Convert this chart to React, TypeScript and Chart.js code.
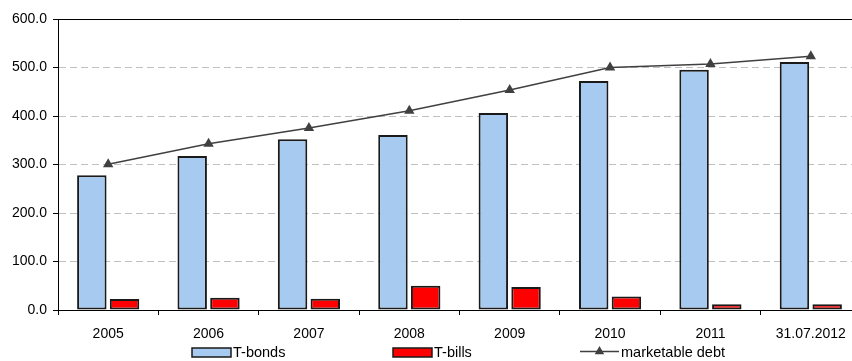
import { useEffect, useRef } from "react";
import { Chart, registerables } from "chart.js";

Chart.register(...registerables);

// Year-end amounts outstanding
const categories = ["2005", "2006", "2007", "2008", "2009", "2010", "2011", "31.07.2012"];
const tBonds = [278.0, 317.5, 352.0, 361.0, 406.0, 472.0, 495.5, 511.5];
const tBills = [22.7, 25.4, 23.4, 50.0, 47.5, 28.0, 11.7, 11.7];
const marketableDebt = [300.7, 342.9, 375.4, 411.0, 453.5, 500.0, 507.2, 523.2];
const yTicks = [0, 100, 200, 300, 400, 500, 600];

const FONT_FAMILY = '"Liberation Sans", Arial, sans-serif';
const FONT = { family: FONT_FAMILY, size: 14 };

// Draws the plot frame (top/right) and the legend row under the axis.
const frameAndLegend = {
  id: "frameAndLegend",
  afterDraw(chart: any) {
    const { ctx, chartArea } = chart;
    ctx.save();
    ctx.strokeStyle = "#000";
    ctx.lineWidth = 1;
    const top = Math.round(chartArea.top) + 0.5;
    const right = Math.round(chartArea.right) + 0.5;
    ctx.beginPath();
    ctx.moveTo(chartArea.left, top);
    ctx.lineTo(right, top);
    ctx.lineTo(right, chartArea.bottom);
    ctx.stroke();

    const ds = chart.data.datasets;
    const xs = [192, 393, 580];
    const cy = 352.5;
    ctx.font = `14.5px ${FONT_FAMILY}`;
    ctx.textBaseline = "middle";
    ctx.textAlign = "left";

    ds.forEach((d: any, i: number) => {
      const x = xs[i];
      if (d.type === "line") {
        ctx.strokeStyle = d.borderColor;
        ctx.lineWidth = 1.5;
        ctx.beginPath();
        ctx.moveTo(x, cy - 1);
        ctx.lineTo(x + 39, cy - 1);
        ctx.stroke();
        const r = 5.5;
        const tx = x + 19.5;
        const ty = cy - 1;
        ctx.fillStyle = d.pointBackgroundColor;
        ctx.beginPath();
        ctx.moveTo(tx, ty - r);
        ctx.lineTo(tx + r * 0.866, ty + r * 0.5);
        ctx.lineTo(tx - r * 0.866, ty + r * 0.5);
        ctx.closePath();
        ctx.fill();
        ctx.fillStyle = "#000";
        ctx.fillText(d.label, x + 41, cy);
      } else {
        ctx.fillStyle = d.backgroundColor;
        ctx.fillRect(x, cy - 4.5, 39, 9);
        ctx.strokeStyle = d.borderColor;
        ctx.lineWidth = 1.5;
        ctx.strokeRect(x, cy - 4.5, 39, 9);
        ctx.fillStyle = "#000";
        ctx.fillText(d.label, x + 41, cy);
      }
    });
    ctx.restore();
  },
};

export default function App() {
  const canvasRef = useRef<HTMLCanvasElement | null>(null);

  useEffect(() => {
    document.body.style.overflow = "hidden";
    const canvas = canvasRef.current;
    if (!canvas) return;

    const chart = new Chart(canvas, {
      type: "bar",
      data: {
        labels: categories,
        datasets: [
          {
            type: "bar",
            label: "T-bonds",
            data: tBonds,
            backgroundColor: "#a6caf0",
            borderColor: "#1a1a1a",
            borderWidth: 2,
            borderSkipped: false,
            barPercentage: 0.9,
            categoryPercentage: 0.652,
            order: 1,
          },
          {
            type: "bar",
            label: "T-bills",
            data: tBills,
            backgroundColor: "#ff0000",
            borderColor: "#1a1a1a",
            borderWidth: 2,
            borderSkipped: false,
            barPercentage: 0.9,
            categoryPercentage: 0.652,
            order: 2,
          },
          {
            type: "line",
            label: "marketable debt",
            data: marketableDebt,
            borderColor: "#404040",
            borderWidth: 1.5,
            pointStyle: "triangle",
            pointRadius: 6,
            pointBackgroundColor: "#404040",
            pointBorderColor: "#404040",
            pointBorderWidth: 0,
            tension: 0,
            fill: false,
            order: 0,
          } as any,
        ],
      },
      options: {
        responsive: false,
        animation: false,
        devicePixelRatio: 1,
        layout: { padding: { top: 19, right: 9, left: 0, bottom: 0 } },
        plugins: {
          legend: { display: false },
          tooltip: { enabled: false },
        },
        scales: {
          x: {
            offset: true,
            grid: {
              display: true,
              offset: true,
              drawOnChartArea: false,
              drawTicks: true,
              tickLength: 5,
              tickColor: "#000",
              color: "#000",
            },
            border: { display: true, color: "#000", width: 1 },
            ticks: { font: FONT, color: "#000", padding: 11, maxRotation: 0, autoSkip: false },
            afterFit: (scale: any) => {
              scale.height = 51;
            },
          },
          y: {
            min: 0,
            max: 600,
            afterBuildTicks: (scale: any) => {
              scale.ticks = yTicks.map((v) => ({ value: v }));
            },
            grid: {
              color: (c: any) =>
                c.tick && (c.tick.value === 0 || c.tick.value === 600) ? "rgba(0,0,0,0)" : "#c0c0c0",
              tickColor: "#000",
              tickLength: 5,
              tickBorderDash: [],
              lineWidth: 1,
            },
            border: { display: true, color: "#000", width: 1, dash: [7, 4] },
            ticks: {
              font: FONT,
              color: "#000",
              padding: 6,
              callback: (v: any) => Number(v).toFixed(1),
            },
            afterFit: (scale: any) => {
              scale.width = 58;
            },
          },
        },
      },
      plugins: [frameAndLegend],
    });

    return () => chart.destroy();
  }, []);

  return (
    <div
      style={{
        position: "absolute",
        left: 0,
        top: 0,
        width: 852,
        height: 361,
        overflow: "hidden",
        background: "#fff",
      }}
    >
      <canvas ref={canvasRef} width={870} height={361} style={{ display: "block", width: 870, height: 361 }} />
    </div>
  );
}
